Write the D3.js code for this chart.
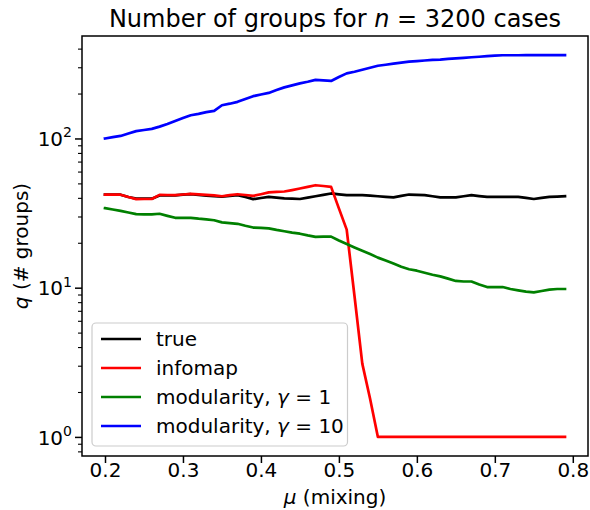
<!DOCTYPE html>
<html><head><meta charset="utf-8">
<script src="https://cdn.jsdelivr.net/npm/d3@7/dist/d3.min.js"></script>
<style>
body{margin:0;background:#fff}
svg{display:block}
text{font-family:"DejaVu Sans",sans-serif;fill:#000}
</style>
</head><body>
<svg id="chart" width="590" height="510"></svg>
<script>
// ---- data ----
const mu = [0.20,0.21,0.22,0.23,0.24,0.25,0.26,0.27,0.28,0.29,
            0.30,0.31,0.32,0.33,0.34,0.35,0.36,0.37,0.38,0.39,
            0.40,0.41,0.42,0.43,0.44,0.45,0.46,0.47,0.48,0.49,
            0.50,0.51,0.52,0.53,0.54,0.55,0.56,0.57,0.58,0.59,
            0.60,0.61,0.62,0.63,0.64,0.65,0.66,0.67,0.68,0.69,
            0.70,0.71,0.72,0.73,0.74,0.75,0.76,0.77,0.78,0.79];
const trueQ = [42,42,42,40.5,39.5,39.5,39.5,41.5,41.5,41.5,
               42,42.3,41.8,41.3,41.0,40.8,41.2,41.7,40.5,39.2,
               39.9,40.6,40.1,39.7,39.5,39.3,40.1,41.0,41.9,42.8,
               42.2,41.7,41.7,41.7,41.4,41.0,40.6,40.3,41.2,42.1,
               41.9,41.7,41.0,40.3,40.3,40.3,41.0,41.7,41.1,40.6,
               40.6,40.6,40.6,40.6,40.0,39.3,40.0,40.6,40.8,41.0];
const infomapQ = [42,42,42,40.5,39.2,39.3,39.3,41.9,41.8,41.7,
                  42.1,42.5,42.2,41.9,41.5,41.0,41.7,42.3,41.8,41.2,
                  42.3,43.5,43.8,44.1,45.1,46.2,47.4,48.6,48.0,47.4,
                  34,24.5,8.8,3.1,1.8,1,1,1,1,1,
                  1,1,1,1,1,1,1,1,1,1,
                  1,1,1,1,1,1,1,1,1,1];
const mod1Q = [34.1,33.4,32.7,31.9,31.1,31.0,31.0,31.3,30.3,29.4,
               29.4,29.4,29.0,28.7,28.3,27.4,27.1,26.8,26.0,25.3,
               25.2,25.0,24.4,23.9,23.4,23.0,22.4,21.9,22.0,22.0,
               20.7,19.6,18.6,17.7,16.8,15.9,15.2,14.5,13.8,13.3,
               13.0,12.6,12.2,11.9,11.5,11.1,11.0,11.0,10.5,10.1,
               10.1,10.1,9.8,9.6,9.4,9.3,9.5,9.7,9.8,9.8];
const mod10Q = [100,102,104,108,112,114,116,120,125,131,
                137,143,146,150,153,167,171,176,184,192,
                197,202,211,220,227,234,240,247,245,243,
                258,273,280,289,298,307,312,317,322,327,
                330,333,336,338,341,344,347,350,353,356,
                359,361,361,361,362,362,362,362,362,362];
const seriesNames = ["true","infomap","modularity, γ = 1","modularity, γ = 10"];
const seriesColors = ["#000000","#ff0000","#008000","#0000ff"];
const xTicks = [0.2,0.3,0.4,0.5,0.6,0.7,0.8];
const yMajorExp = [0,1,2];

const seriesData = [trueQ, infomapQ, mod1Q, mod10Q];

// ---- layout ----
const L = 82, R = 588, T = 36, B = 456;
const svg = d3.select("#chart");

const xmin = d3.min(mu), xmax = d3.max(mu), xr = xmax - xmin;
const x = d3.scaleLinear().domain([xmin - 0.05*xr, xmax + 0.05*xr]).range([L, R]);
const allY = seriesData.flat();
const lmin = Math.log10(d3.min(allY)), lmax = Math.log10(d3.max(allY)), lr = lmax - lmin;
const y = d3.scaleLog().domain([Math.pow(10, lmin - 0.05*lr), Math.pow(10, lmax + 0.05*lr)]).range([B, T]);

// lines
const line = d3.line().x((d,i)=>x(mu[i])).y(d=>y(d));
const g = svg.append("g");
seriesData.forEach((s,k)=>{
  g.append("path").datum(s).attr("d", line)
   .attr("fill","none").attr("stroke",seriesColors[k]).attr("stroke-width",2.7)
   .attr("stroke-linejoin","round").attr("stroke-linecap","square");
});

// frame
svg.append("rect").attr("x",L).attr("y",T).attr("width",R-L).attr("height",B-T)
  .attr("fill","none").attr("stroke","#000").attr("stroke-width",1.5);

// x axis
const xAxis = d3.axisBottom(x).tickValues(xTicks).tickFormat(d3.format(".1f")).tickSize(7).tickPadding(0);
const xg = svg.append("g").attr("transform",`translate(0,${B})`).call(xAxis);
xg.select(".domain").remove();
xg.selectAll(".tick line").attr("stroke","#000").attr("stroke-width",1.5);
xg.selectAll(".tick text").attr("font-size",20).attr("font-family","DejaVu Sans").attr("fill","#000");

// y axis: minor ticks
const [d0, d1] = y.domain();
const minor = [];
for (let e = Math.floor(Math.log10(d0)); e <= Math.ceil(Math.log10(d1)); e++) {
  for (let m = 2; m <= 9; m++) { const v = m*Math.pow(10,e); if (v>=d0 && v<=d1) minor.push(v); }
}
const yMinor = d3.axisLeft(y).tickValues(minor).tickFormat("").tickSize(4);
const ym = svg.append("g").attr("transform",`translate(${L},0)`).call(yMinor);
ym.select(".domain").remove();
ym.selectAll(".tick line").attr("stroke","#000").attr("stroke-width",1.1);

const yMajorVals = yMajorExp.map(e=>Math.pow(10,e));
const yAxis = d3.axisLeft(y).tickValues(yMajorVals).tickFormat("").tickSize(7);
const yg = svg.append("g").attr("transform",`translate(${L},0)`).call(yAxis);
yg.select(".domain").remove();
yg.selectAll(".tick line").attr("stroke","#000").attr("stroke-width",1.5);
yg.selectAll(".tick").each(function(d,i){
  const t = d3.select(this).append("text").attr("x",-10).attr("y",0).attr("dy","0.36em")
    .attr("text-anchor","end").attr("font-size",20).attr("fill","#000");
  t.append("tspan").text("10");
  t.append("tspan").attr("font-size",14).attr("dy","-0.62em").text(yMajorExp[i]);
});

// title
const title = svg.append("text").attr("x",(L+R)/2).attr("y",27).attr("text-anchor","middle").attr("font-size",24);
title.append("tspan").text("Number of groups for ");
title.append("tspan").attr("font-style","italic").text("n");
title.append("tspan").text(" = 3200 cases");

// x label
const xl = svg.append("text").attr("x",(L+R)/2).attr("y",504).attr("text-anchor","middle").attr("font-size",20);
xl.append("tspan").attr("font-style","italic").text("μ");
xl.append("tspan").text(" (mixing)");

// y label
const yl = svg.append("text").attr("transform",`translate(28,${(T+B)/2}) rotate(-90)`).attr("text-anchor","middle").attr("font-size",20);
yl.append("tspan").attr("font-style","italic").text("q");
yl.append("tspan").text(" (# groups)");

// legend
const lg = svg.append("g");
lg.append("rect").attr("x",92).attr("y",323).attr("width",255.5).attr("height",123).attr("rx",4)
  .attr("fill","#fff").attr("fill-opacity",0.8).attr("stroke","#cccccc").attr("stroke-width",1.2);
seriesNames.forEach((name,k)=>{
  const cy = 339 + k*29;
  lg.append("line").attr("x1",101).attr("x2",141).attr("y1",cy).attr("y2",cy)
    .attr("stroke",seriesColors[k]).attr("stroke-width",2.7);
  const t = lg.append("text").attr("x",156).attr("y",cy).attr("dy","0.36em").attr("font-size",20);
  const gi = name.indexOf("γ");
  if (gi >= 0) {
    t.append("tspan").text(name.slice(0,gi));
    t.append("tspan").attr("font-style","italic").text("γ");
    t.append("tspan").text(name.slice(gi+1));
  } else t.append("tspan").text(name);
});
</script>
</body></html>
